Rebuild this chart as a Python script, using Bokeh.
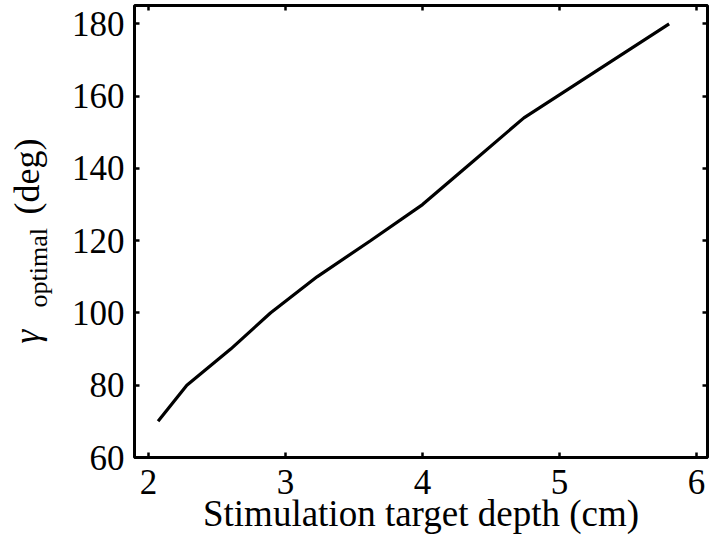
from bokeh.plotting import figure
from bokeh.layouts import row
from bokeh.models import LinearAxis, Label, Range1d, FixedTicker
from bokeh.embed import file_html
from bokeh.resources import INLINE

# Data
depth_cm = [2.07, 2.28, 2.60, 2.89, 3.23, 3.62, 4.00, 4.37, 4.74, 5.27, 5.80]
gamma_opt_deg = [70, 80, 90, 100, 110, 120, 130, 142, 154, 167, 180]
x_ticks = [2, 3, 4, 5, 6]
y_ticks = [60, 80, 100, 120, 140, 160, 180]
x_label = "Stimulation target depth (cm)"

FONT = "Liberation Serif"
FS = "35px"
X0, X1 = 1.898, 6.08
Y0, Y1 = 60, 185.1
W_LAB = 60          # width of the strip holding the rotated y label
W, H = 709, 552
B_TOP, B_BOTTOM = 5, 95

# ---- strip with the y axis label (gamma_optimal (deg)) ----
# its frame is aligned with the main frame; ranges are in pixels of the page
lab = figure(width=W_LAB, height=H, output_backend="svg", toolbar_location=None,
             x_range=Range1d(0, W_LAB), y_range=Range1d(H - B_BOTTOM, B_TOP),
             min_border_left=0, min_border_right=0, min_border_top=B_TOP,
             min_border_bottom=B_BOTTOM, x_axis_type=None, y_axis_type=None)
lab.grid.visible = False
lab.outline_line_color = None
lab.background_fill_color = "white"
lab.border_fill_color = "white"
common = dict(angle=1.5707963, text_align="left", text_baseline="alphabetic",
              text_font=FONT, text_color="black")
lab.add_layout(Label(x=26.5, y=343, text="γ", text_font_size=FS,
                     text_font_style="italic", **common))
lab.add_layout(Label(x=37.5, y=307, text="optimal", text_font_size="26px",
                     **common))
lab.add_layout(Label(x=26.2, y=214, text="(deg)", text_font_size="36px",
                     **common))

# ---- main plot ----
p = figure(width=W - W_LAB, height=H, output_backend="svg", toolbar_location=None,
           x_range=Range1d(X0, X1), y_range=Range1d(Y0, Y1),
           min_border_left=134 - W_LAB, min_border_right=2, min_border_top=B_TOP,
           min_border_bottom=B_BOTTOM, x_axis_type=None, y_axis_type=None)
p.grid.visible = False
p.outline_line_color = "black"
p.outline_line_width = 3
p.background_fill_color = "white"
p.border_fill_color = "white"


def style_axis(ax, ticks, show_labels):
    ax.ticker = FixedTicker(ticks=ticks)
    ax.axis_line_color = None
    ax.major_tick_in = 5
    ax.major_tick_out = 0
    ax.major_tick_line_width = 2.5
    ax.major_tick_line_color = "black"
    ax.minor_tick_line_color = None
    ax.major_label_text_font = FONT
    ax.axis_label_text_font = FONT
    ax.axis_label_text_font_style = "normal"
    ax.axis_label_text_color = "black"
    if not show_labels:
        ax.major_label_text_font_size = "1px"
        ax.major_label_text_color = None
        ax.major_label_standoff = 0
    else:
        ax.major_label_text_font_size = FS
        ax.major_label_text_color = "black"


xb = LinearAxis()
style_axis(xb, x_ticks, True)
xb.major_label_standoff = 12
xb.axis_label = x_label
xb.axis_label_text_font_size = "37px"
xb.axis_label_standoff = -4
p.add_layout(xb, "below")

yl = LinearAxis()
style_axis(yl, y_ticks, True)
yl.major_label_standoff = 10
p.add_layout(yl, "left")

xt = LinearAxis()
style_axis(xt, x_ticks, False)
p.add_layout(xt, "above")

yr = LinearAxis()
style_axis(yr, y_ticks, False)
p.add_layout(yr, "right")

p.line(depth_cm, gamma_opt_deg, line_color="black", line_width=3.2)

layout = row(lab, p)
open("out.html", "w").write(file_html(layout, INLINE))
